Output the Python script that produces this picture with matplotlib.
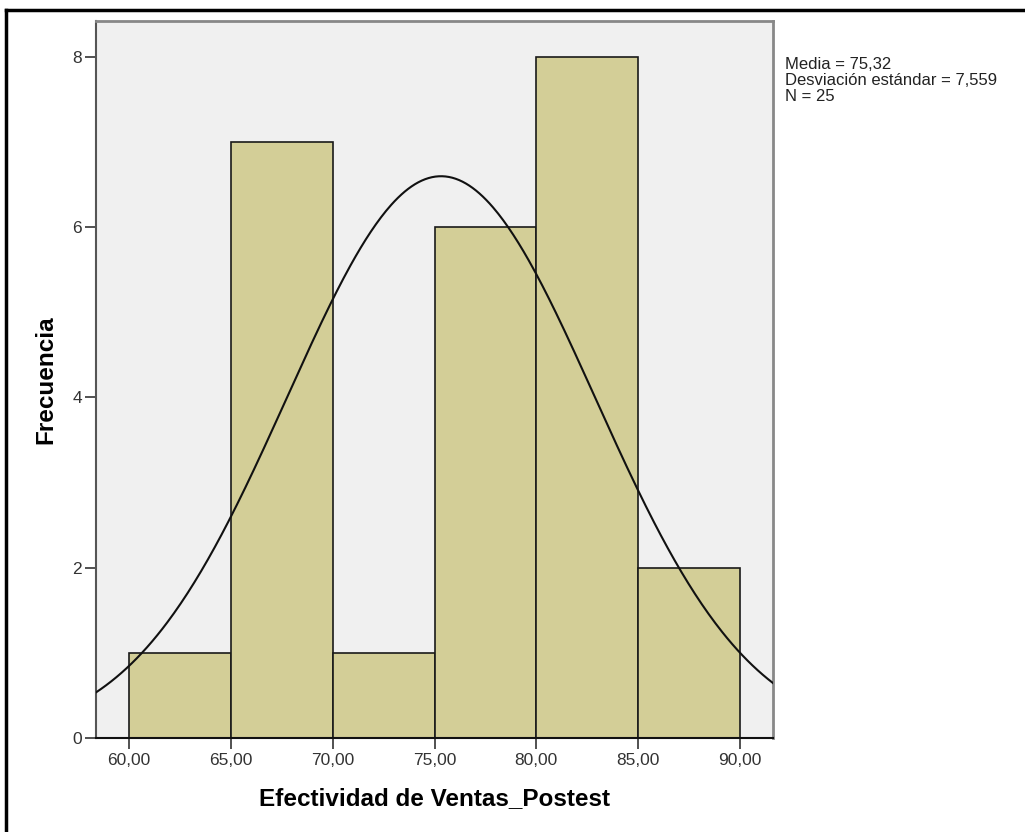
import numpy as np
import matplotlib.pyplot as plt
from matplotlib.lines import Line2D

# Histogram bins and counts
bin_edges = [60, 65, 70, 75, 80, 85, 90]
counts = [1, 7, 1, 6, 8, 2]
tick_values = [60, 65, 70, 75, 80, 85, 90]
tick_labels = ['60,00', '65,00', '70,00', '75,00', '80,00', '85,00', '90,00']

# Summary statistics shown on the chart
media = 75.32
desv = 7.559
n = 25

plt.rcParams['font.family'] = ['Liberation Sans', 'DejaVu Sans']

fig = plt.figure(figsize=(10.25, 8.32), dpi=100)
ax = fig.add_axes([96 / 1025, 1 - 738 / 832, (773 - 96) / 1025, (738 - 21) / 832])
ax.set_facecolor('#f0f0f0')

widths = np.diff(bin_edges)
ax.bar(bin_edges[:-1], counts, width=widths, align='edge',
       color='#d3ce97', edgecolor='#1a1a1a', linewidth=1.2, zorder=2)

# Normal curve scaled to the histogram
xs = np.linspace(58.38, 91.62, 400)
bw = bin_edges[1] - bin_edges[0]
ys = n * bw * np.exp(-0.5 * ((xs - media) / desv) ** 2) / (desv * np.sqrt(2 * np.pi))
ax.plot(xs, ys, color='#111111', linewidth=1.5, zorder=3)

ax.set_xlim(58.38, 91.62)
ax.set_ylim(0, 8.42)
ax.set_xticks(tick_values)
ax.set_xticklabels(tick_labels)
ax.set_yticks([0, 2, 4, 6, 8])
ax.tick_params(axis='both', labelsize=12.5, length=8, width=1.2, color='#333333', labelcolor='#333333')
ax.tick_params(axis='x', pad=3)
ax.tick_params(axis='y', pad=2)

for side in ['top', 'right']:
    ax.spines[side].set_color('#888888')
    ax.spines[side].set_linewidth(2)
ax.spines['left'].set_color('#555555')
ax.spines['left'].set_linewidth(1.5)
ax.spines['bottom'].set_color('#111111')
ax.spines['bottom'].set_linewidth(1.5)

ax.set_xlabel('Efectividad de Ventas_Postest', fontsize=17.5, fontweight='bold', va='center')
ax.set_ylabel('Frecuencia', fontsize=17.5, fontweight='bold', va='center', ha='center')
ax.xaxis.set_label_coords(0.5, (738 - 799) / 717)
ax.yaxis.set_label_coords((46 - 96) / 677, 0.5)

stats_text = f'Media = {media:.2f}\nDesviación estándar = {desv:.3f}\nN = {n}'.replace('.', ',')
fig.text(785 / 1025, 1 - 57 / 832, stats_text, fontsize=12, va='top', ha='left',
         color='#222222', linespacing=1.08)

# Outer frame (top and left edges visible)
fig.add_artist(Line2D([6 / 1025, 1], [1 - 9.5 / 832, 1 - 9.5 / 832], color='black', linewidth=2.5))
fig.add_artist(Line2D([6 / 1025, 6 / 1025], [0, 1 - 9.5 / 832], color='black', linewidth=2.5))

fig.savefig('out.png', dpi=100)
